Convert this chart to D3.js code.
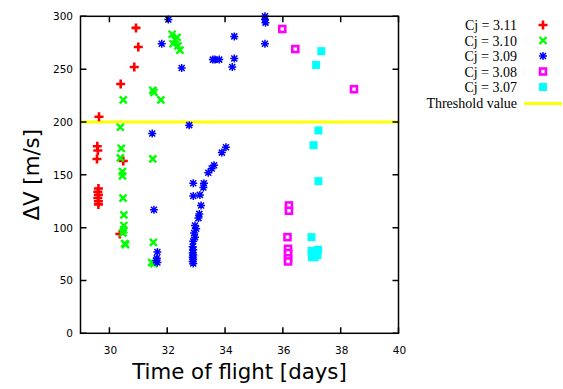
<!DOCTYPE html>
<html>
<head>
<meta charset="utf-8">
<script src="https://cdn.jsdelivr.net/npm/d3@7"></script>
<style>
  body { margin: 0; background: #fff; }
  .tick_label { font-family: "DejaVu Sans", sans-serif; font-size: 10.5px; fill: #000; }
  .axis_title { font-family: "DejaVu Sans", sans-serif; font-size: 21.3px; fill: #000; }
  .key { font-family: "Liberation Serif", serif; font-size: 14px; fill: #000; }
</style>
</head>
<body>
<div id="d3-container"></div>
<script>
let window_width = 563;
let window_height = 389;

// time of flight [days] and delta-V [m/s] per Jacobi constant
let red_tof = [29.64, 30.92, 31.0, 30.86, 30.39, 29.58, 29.6, 29.57, 30.48, 29.62, 29.6, 29.62, 29.6, 29.62, 29.62, 30.36];
let red_dv = [205, 289, 271, 252, 236, 177, 173, 165, 163, 137, 134, 131, 128, 125, 122, 94];

let green_tof = [30.48, 30.38, 31.5, 31.54, 31.78, 32.17, 32.27, 32.2, 32.37, 32.34, 32.44, 30.41, 30.38, 30.45, 30.45, 31.5, 30.47, 30.5, 30.5, 30.49, 30.47, 30.53, 30.56, 31.52, 31.46, 31.54];
let green_dv = [221, 195, 230, 228, 221, 283, 278, 274, 272, 280, 268, 175, 166, 153, 149, 165, 128, 112, 102, 98, 95, 85, 84, 86, 67, 66];

let blue_tof = [32.04, 31.81, 32.5, 32.76, 31.48, 35.38, 35.38, 35.4, 35.38, 34.32, 33.65, 33.8, 33.58, 34.32, 34.25, 34.03, 33.89, 33.62, 33.54, 33.42, 32.9, 33.27, 33.25, 32.9, 33.13, 33.17, 33.11, 33.08, 32.96, 33.0, 32.93, 32.96, 32.9, 32.88, 32.9, 32.88, 32.9, 32.88, 32.9, 32.88, 32.9, 31.54, 31.66, 31.64, 31.62, 31.66];
let blue_dv = [297, 274, 251, 197, 189, 300, 297, 294, 274, 281, 259, 259, 259, 260, 252, 176, 171, 159, 156, 152, 142, 142, 138, 130, 131, 121, 113, 109, 102, 99, 95, 91, 87, 82, 79, 76, 74, 72, 70, 68, 66, 117, 77, 71, 69, 67];

let magenta_tof = [35.98, 36.43, 38.46, 36.21, 36.21, 36.16, 36.18, 36.18, 36.18, 36.18];
let magenta_dv = [288, 269, 231, 121, 116, 91, 80, 76, 71, 68];

let cyan_tof = [37.33, 37.15, 37.23, 37.06, 37.23, 36.99, 36.99, 37.22, 37.1, 37.0, 37.2];
let cyan_dv = [267, 254, 192, 178, 144, 91, 78, 79, 72, 72, 74];

let series_names = ["Cj = 3.11", "Cj = 3.10", "Cj = 3.09", "Cj = 3.08", "Cj = 3.07"];
let threshold_name = "Threshold value";
let threshold = 200;

let x_ticks = [30, 32, 34, 36, 38, 40];
let y_ticks = [0, 50, 100, 150, 200, 250, 300];

let plot_left = 80.5, plot_right = 398.5, plot_top = 16.3, plot_bottom = 333.3;
let tick_len = 6;

let x = d3.scaleLinear().domain([29, 40]).range([plot_left, plot_right]);
let y = d3.scaleLinear().domain([0, 300]).range([plot_bottom, plot_top]);

let series = [
    {name: series_names[0], tof: red_tof, dv: red_dv, color: "#ff0000", marker: "plus"},
    {name: series_names[1], tof: green_tof, dv: green_dv, color: "#00ff00", marker: "cross"},
    {name: series_names[2], tof: blue_tof, dv: blue_dv, color: "#0000ff", marker: "star"},
    {name: series_names[3], tof: magenta_tof, dv: magenta_dv, color: "#ff00ff", marker: "box"},
    {name: series_names[4], tof: cyan_tof, dv: cyan_dv, color: "#00ffff", marker: "fbox"}
];

let svg = d3.select("#d3-container").append("svg")
    .attr("width", window_width)
    .attr("height", window_height);

svg.append("rect").attr("width", window_width).attr("height", window_height).style("fill", "#fff");

// threshold line
svg.append("line")
    .attr("x1", plot_left).attr("x2", plot_right + 1)
    .attr("y1", y(threshold)).attr("y2", y(threshold))
    .style("stroke", "#ffff00").style("stroke-width", 3);

function draw_marker(g, kind, color) {
    if (kind == "plus") {
        g.append("path").attr("d", "M-4.5,0H4.5M0,-4.5V4.5")
            .style("stroke", color).style("stroke-width", 2.6).style("fill", "none");
    }
    else if (kind == "cross") {
        g.append("path").attr("d", "M-3.5,-3.5L3.5,3.5M-3.5,3.5L3.5,-3.5")
            .style("stroke", color).style("stroke-width", 2.4).style("fill", "none");
    }
    else if (kind == "star") {
        g.append("path").attr("d", "M-4,0H4M0,-4V4M-3,-3L3,3M-3,3L3,-3")
            .style("stroke", color).style("stroke-width", 1.5).style("fill", "none");
    }
    else if (kind == "box") {
        g.append("rect").attr("x", -3).attr("y", -3).attr("width", 6).attr("height", 6)
            .style("stroke", color).style("stroke-width", 2.6).style("fill", "#fff");
    }
    else {
        g.append("rect").attr("x", -4).attr("y", -4).attr("width", 8).attr("height", 8)
            .style("fill", color);
    }
}

series.forEach(function(s) {
    let pts = s.tof.map(function(t, i) { return {t: t, v: s.dv[i]}; });
    svg.append("g").selectAll("g")
        .data(pts)
        .enter()
        .append("g")
        .attr("transform", function(d) { return "translate(" + x(d.t) + "," + y(d.v) + ")"; })
        .each(function() { draw_marker(d3.select(this), s.marker, s.color); });
});

// frame and inward ticks
let frame = svg.append("g").style("stroke", "#000").style("stroke-width", 1.5).style("fill", "none");
frame.append("rect")
    .attr("x", plot_left).attr("y", plot_top)
    .attr("width", plot_right - plot_left).attr("height", plot_bottom - plot_top);

frame.selectAll(null).data(x_ticks).enter().append("path")
    .attr("d", function(t) { return "M" + x(t) + "," + plot_bottom + "v" + (-tick_len) + "M" + x(t) + "," + plot_top + "v" + tick_len; });
frame.selectAll(null).data(y_ticks).enter().append("path")
    .attr("d", function(v) { return "M" + plot_left + "," + y(v) + "h" + tick_len + "M" + plot_right + "," + y(v) + "h" + (-tick_len); });

svg.selectAll(null).data(x_ticks).enter().append("text")
    .classed("tick_label", true)
    .attr("x", function(t) { return x(t) + 1; })
    .attr("y", 354)
    .attr("text-anchor", "middle")
    .text(function(t) { return t; });

svg.selectAll(null).data(y_ticks).enter().append("text")
    .classed("tick_label", true)
    .attr("x", 73)
    .attr("y", function(v) { return y(v) + 4; })
    .attr("text-anchor", "end")
    .text(function(v) { return v; });

// axis titles
svg.append("text")
    .classed("axis_title", true)
    .attr("text-anchor", "middle")
    .attr("transform", "translate(39," + ((plot_top + plot_bottom) / 2) + ") rotate(-90)")
    .text("ΔV [m/s]");

svg.append("text")
    .classed("axis_title", true)
    .attr("text-anchor", "middle")
    .attr("x", (plot_left + plot_right) / 2)
    .attr("y", 379)
    .text("Time of flight [days]");

// key
let key = svg.append("g");
let key_text_x = 517;
let key_mark_x = 543;
let key_row_y = [25, 40.5, 56, 71.5, 87, 102.5];

series.forEach(function(s, i) {
    key.append("text")
        .classed("key", true)
        .attr("x", key_text_x)
        .attr("y", key_row_y[i] + 5)
        .attr("text-anchor", "end")
        .text(s.name);
    let g = key.append("g").attr("transform", "translate(" + key_mark_x + "," + key_row_y[i] + ")");
    draw_marker(g, s.marker, s.color);
});

key.append("text")
    .classed("key", true)
    .attr("x", key_text_x)
    .attr("y", key_row_y[5] + 5)
    .attr("text-anchor", "end")
    .text(threshold_name);
key.append("line")
    .attr("x1", 524).attr("x2", 562)
    .attr("y1", key_row_y[5] + 1).attr("y2", key_row_y[5] + 1)
    .style("stroke", "#ffff00").style("stroke-width", 3);
</script>
</body>
</html>
